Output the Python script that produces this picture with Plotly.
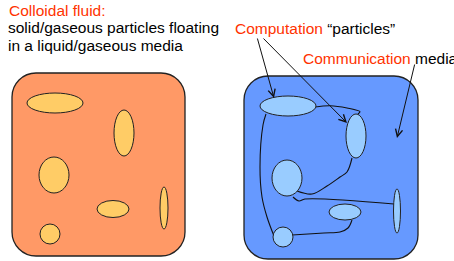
import plotly.graph_objects as go

W, H = 454, 261

# Diagram content: boxes (x0, y0, x1, y1), particles (cx, cy, rx, ry)
box_colloid = (12, 73, 185, 256)
box_compute = (244, 76, 418, 259)
corner_r = 24

particles_colloid = [(55, 103, 28, 10), (124, 133, 10, 23), (54, 175, 15, 18),
                     (113, 209, 16, 8.5), (50, 234, 10, 10), (164, 208, 4, 21)]
particles_compute = [(288, 106, 28, 10), (356, 136, 10, 22), (287, 178, 15, 18),
                     (345, 212, 16, 8), (283, 237, 10, 10), (397, 211, 3.5, 22)]

# communication links (hand-drawn polylines)
links = [
    ([315, 330, 347, 360, 358], [107, 105.7, 108, 111.7, 114]),
    ([266, 263, 260, 262, 267, 274], [114, 125, 167, 197, 217, 236]),
    ([352, 347, 340, 327, 312, 297], [158, 172, 177, 186, 194, 191]),
    ([293, 299, 305, 394], [197, 201, 199, 204]),
    ([352, 348, 340, 324, 292], [220, 228, 232, 233, 235]),
]

# arrows: (tail_x, tail_y, head_x, head_y)
arrows = [(257, 37, 274, 98), (262, 37, 347, 123), (415, 63, 397, 138)]

RED = "#FF3300"
FONT = "Liberation Sans, Arial, sans-serif"
FS = 15.5


def rounded_rect(x0, y0, x1, y1, r):
    k = 0.5523 * r
    return (f"M{x0+r},{y0} L{x1-r},{y0} C{x1-r+k},{y0} {x1},{y0+r-k} {x1},{y0+r} "
            f"L{x1},{y1-r} C{x1},{y1-r+k} {x1-r+k},{y1} {x1-r},{y1} "
            f"L{x0+r},{y1} C{x0+r-k},{y1} {x0},{y1-r+k} {x0},{y1-r} "
            f"L{x0},{y0+r} C{x0},{y0+r-k} {x0+r-k},{y0} {x0+r},{y0} Z")


fig = go.Figure()
shapes = []
shapes.append(dict(type="path", path=rounded_rect(*box_colloid, corner_r), xref="x", yref="y",
                   fillcolor="#FF9966", line=dict(color="#222222", width=1.3), layer="below"))
shapes.append(dict(type="path", path=rounded_rect(*box_compute, corner_r), xref="x", yref="y",
                   fillcolor="#6699FF", line=dict(color="#222222", width=1.3), layer="below"))
for cx, cy, rx, ry in particles_colloid:
    shapes.append(dict(type="circle", xref="x", yref="y", x0=cx-rx, x1=cx+rx, y0=cy-ry, y1=cy+ry,
                       fillcolor="#FFCC66", line=dict(color="#222222", width=1), layer="above"))
for cx, cy, rx, ry in particles_compute:
    shapes.append(dict(type="circle", xref="x", yref="y", x0=cx-rx, x1=cx+rx, y0=cy-ry, y1=cy+ry,
                       fillcolor="#99CCFF", line=dict(color="#222222", width=1), layer="above"))

for xs, ys in links:
    fig.add_trace(go.Scatter(x=xs, y=ys, mode="lines", line=dict(color="#111111", width=1.1, shape="spline"),
                             hoverinfo="skip", showlegend=False))

annotations = []
for tx, ty, hx, hy in arrows:
    annotations.append(dict(x=hx, y=hy, ax=tx, ay=ty, xref="x", yref="y", axref="x", ayref="y",
                            showarrow=True, arrowhead=5, arrowsize=1.4, arrowwidth=1, arrowcolor="#111111",
                            text=""))

texts = [
    (7, 10.5, f"<span style='color:{RED}'>Colloidal fluid:</span>"),
    (6, 27, "solid/gaseous particles floating"),
    (6, 45, "in a liquid/gaseous media"),
    (233, 28, f"<span style='color:{RED}'>Computation</span> “particles”"),
    (301, 58, f"<span style='color:{RED}'>Communication</span> media"),
]
for x, y, t in texts:
    annotations.append(dict(x=x, y=y, xref="x", yref="y", text=t, showarrow=False, xanchor="left",
                            yanchor="middle", font=dict(family=FONT, size=FS, color="#000000")))

fig.update_layout(
    width=W, height=H, margin=dict(l=0, r=0, t=0, b=0),
    paper_bgcolor="white", plot_bgcolor="white",
    xaxis=dict(range=[0, W], visible=False, fixedrange=True),
    yaxis=dict(range=[H, 0], visible=False, fixedrange=True),
    shapes=shapes, annotations=annotations, showlegend=False,
)
fig.write_html("out.html", config={"displayModeBar": False},
               post_script="document.body.style.margin='0';document.body.style.overflow='hidden';")
